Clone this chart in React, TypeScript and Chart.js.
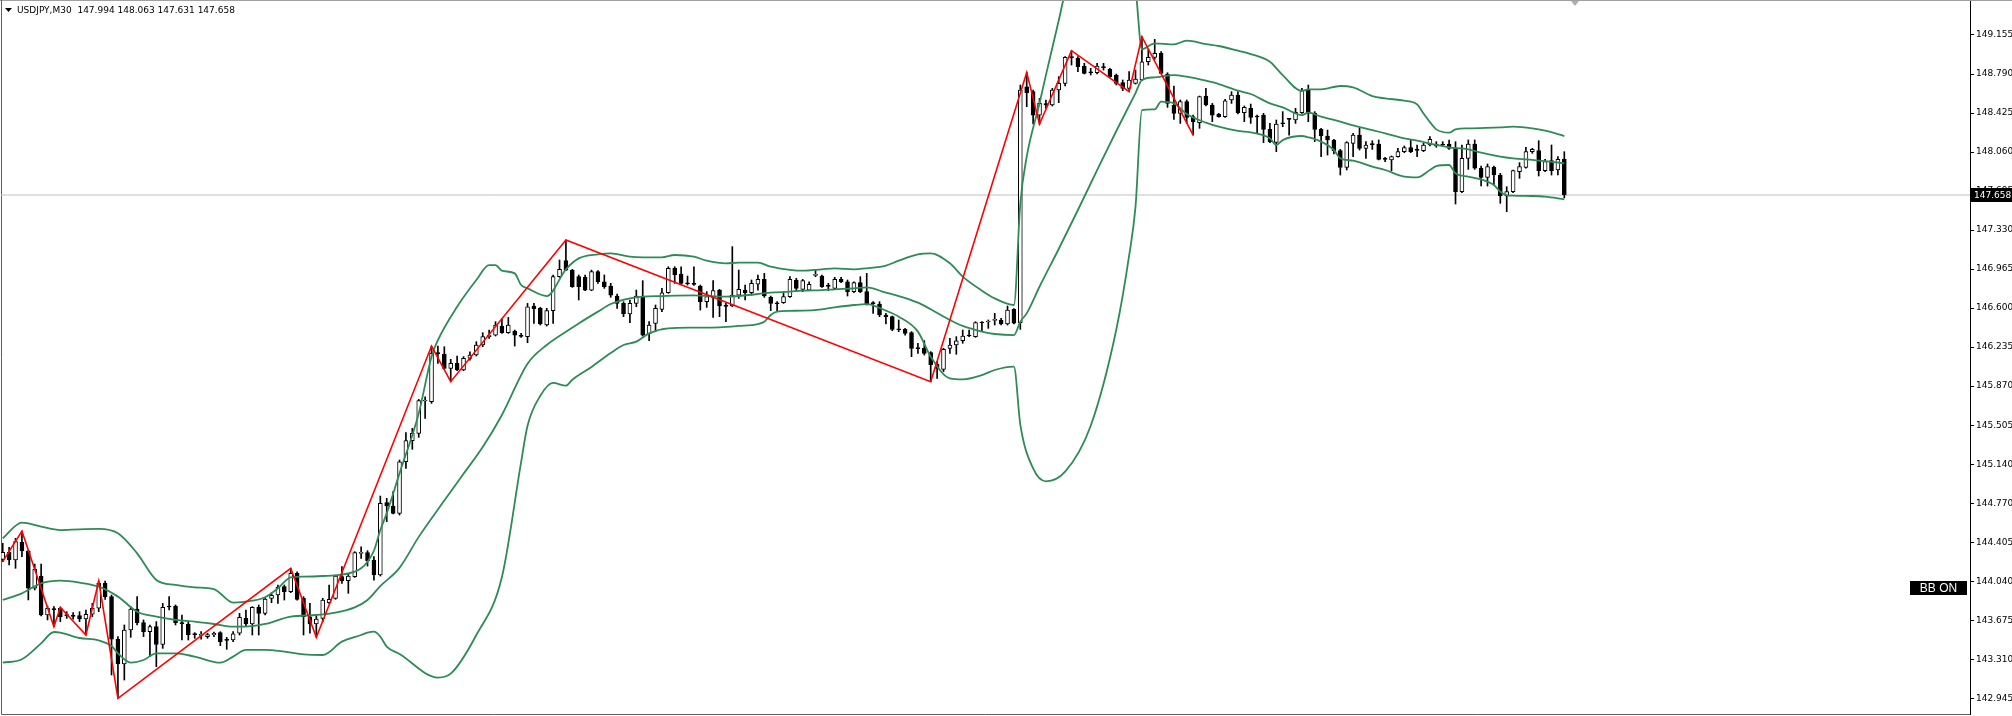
import React, { useEffect, useRef } from "react";
import { Chart, registerables } from "chart.js";
Chart.register(...registerables);

const SYMBOL = "USDJPY,M30";

const OPEN = [144.250,144.315,144.244,144.409,144.328,143.979,144.094,143.729,143.785,143.792,143.732,143.723,143.723,143.692,143.736,143.792,144.025,143.901,143.502,143.271,143.589,143.785,143.658,143.573,143.620,143.455,143.810,143.813,143.655,143.645,143.552,143.539,143.527,143.542,143.564,143.499,143.495,143.558,143.698,143.645,143.801,143.745,143.885,143.916,143.994,143.947,144.119,143.885,143.713,143.645,143.698,143.844,143.885,144.088,144.050,144.088,144.306,144.312,144.244,144.103,144.780,144.749,144.680,145.163,145.360,145.428,145.731,145.725,146.180,146.170,146.036,146.083,146.021,146.130,146.161,146.255,146.333,146.348,146.432,146.370,146.386,146.342,146.333,146.620,146.598,146.442,146.576,146.894,147.044,146.956,146.894,146.888,146.769,146.941,146.847,146.807,146.713,146.644,146.545,146.644,146.713,146.358,146.457,146.588,146.744,146.972,146.919,146.835,146.828,146.807,146.660,146.701,146.769,146.623,146.620,146.722,146.769,146.744,146.825,146.869,146.701,146.648,146.651,146.707,146.863,146.776,146.769,146.907,146.900,146.810,146.785,146.869,146.847,146.754,146.838,146.754,146.648,146.638,146.536,146.520,146.405,146.401,146.370,146.227,146.224,146.183,146.077,146.027,146.224,146.255,146.295,146.348,146.333,146.467,146.470,146.486,146.489,146.451,146.589,146.464,148.671,148.625,148.406,148.509,148.500,148.640,148.703,148.949,148.936,148.865,148.809,148.802,148.855,148.834,148.781,148.709,148.656,148.703,148.734,148.905,148.946,148.983,148.790,148.500,148.422,148.531,148.391,148.335,148.584,148.500,148.413,148.391,148.547,148.593,148.428,148.469,148.394,148.406,148.272,148.151,148.332,148.372,148.360,148.428,148.647,148.422,148.272,148.210,148.173,148.073,147.917,148.141,148.219,148.095,148.135,148.135,147.998,147.986,148.017,148.064,148.101,148.082,148.073,148.126,148.117,148.132,148.135,148.095,147.689,148.001,148.135,147.908,147.823,147.917,147.845,147.649,147.689,147.876,147.917,148.064,148.073,147.886,147.979,147.892,147.994];
const HIGH = [144.400,144.362,144.446,144.515,144.337,144.206,144.206,143.813,143.807,143.801,143.760,143.751,143.760,143.776,143.838,144.047,144.047,143.916,143.527,143.636,143.807,143.901,143.683,143.636,143.667,143.838,143.901,143.823,143.729,143.667,143.564,143.573,143.558,143.570,143.573,143.520,143.573,143.745,143.776,143.807,143.823,143.894,143.938,144.010,144.010,144.166,144.134,143.901,143.838,143.729,143.885,144.010,144.103,144.181,144.113,144.322,144.368,144.331,144.275,144.842,144.820,144.883,145.179,145.435,145.475,145.746,145.771,146.245,146.245,146.239,146.121,146.152,146.146,146.192,146.286,146.370,146.395,146.473,146.504,146.513,146.395,146.364,146.644,146.644,146.607,146.598,146.910,147.050,147.237,146.963,146.910,146.910,146.956,146.950,146.910,146.832,146.732,146.660,146.676,146.769,146.857,146.473,146.629,146.785,146.987,146.987,146.987,146.900,146.987,146.816,146.754,146.857,146.775,146.644,147.175,146.956,146.816,146.863,146.910,146.925,146.713,146.660,146.754,146.894,146.879,146.869,146.847,146.956,146.910,146.832,146.888,146.888,146.863,146.847,146.894,146.925,146.660,146.660,146.551,146.526,146.489,146.411,146.380,146.271,146.295,146.193,146.099,146.224,146.317,146.333,146.395,146.395,146.473,146.473,146.489,146.551,146.504,146.620,146.595,148.687,148.805,148.640,148.562,148.547,148.656,148.765,148.952,149.008,148.952,148.890,148.843,148.890,148.890,148.843,148.790,148.734,148.812,148.827,149.139,149.021,149.114,148.999,148.802,148.678,148.547,148.547,148.406,148.584,148.656,148.515,148.422,148.553,148.625,148.625,148.491,148.509,148.406,148.422,148.328,148.360,148.438,148.375,148.469,148.656,148.687,148.438,148.282,148.266,148.179,148.085,148.157,148.235,148.282,148.157,148.166,148.173,148.011,148.023,148.095,148.117,148.173,148.126,148.141,148.204,148.157,148.157,148.173,148.157,148.126,148.173,148.173,147.929,147.948,147.929,147.861,147.736,147.892,147.961,148.104,148.095,148.166,147.992,148.126,148.017,148.063];
const LOW = [144.228,144.197,144.166,144.275,143.870,143.963,143.720,143.683,143.620,143.667,143.698,143.689,143.667,143.542,143.714,143.760,143.876,143.168,142.950,143.121,143.520,143.636,143.527,143.340,143.246,143.417,143.776,143.636,143.495,143.495,143.511,143.502,143.511,143.527,143.442,143.408,143.480,143.542,143.626,143.542,143.542,143.729,143.844,143.838,143.869,143.938,143.869,143.542,143.558,143.520,143.667,143.838,143.876,144.025,143.932,144.081,144.259,144.187,144.056,144.094,144.602,144.674,144.664,145.101,145.279,145.391,145.569,145.709,146.083,146.027,145.912,146.015,146.015,146.114,146.152,146.239,146.317,146.339,146.364,146.364,146.245,146.326,146.276,146.457,146.442,146.432,146.457,146.888,146.950,146.794,146.676,146.763,146.763,146.832,146.785,146.701,146.598,146.520,146.464,146.613,146.339,146.295,146.379,146.567,146.738,146.832,146.816,146.816,146.813,146.582,146.607,146.514,146.520,146.473,146.613,146.691,146.676,146.722,146.769,146.701,146.576,146.567,146.644,146.701,146.763,146.754,146.763,146.894,146.794,146.763,146.776,146.838,146.713,146.745,146.745,146.629,146.551,146.520,146.451,146.389,146.380,146.348,146.146,146.177,146.161,145.912,145.943,146.006,146.177,146.168,146.271,146.333,146.327,146.380,146.411,146.442,146.442,146.442,146.451,146.401,148.484,148.322,148.322,148.469,148.491,148.522,148.678,148.874,148.812,148.790,148.781,148.790,148.827,148.759,148.687,148.634,148.625,148.696,148.728,148.874,148.927,148.790,148.478,148.366,148.328,148.328,148.219,148.282,148.491,148.344,148.385,148.385,148.515,148.416,148.344,148.328,148.235,148.148,148.148,148.063,148.297,148.219,148.328,148.422,148.344,148.157,148.017,148.032,148.042,147.845,147.892,148.017,148.079,148.001,148.085,147.986,147.970,147.886,148.011,148.054,148.054,148.017,148.064,148.117,148.104,148.117,148.085,147.574,147.680,147.898,147.898,147.742,147.742,147.752,147.580,147.502,147.680,147.814,147.908,148.048,147.836,147.876,147.845,147.845,147.631];
const CLOSE = [144.315,144.244,144.415,144.328,143.979,144.156,143.729,143.792,143.779,143.714,143.723,143.717,143.692,143.736,143.792,144.025,143.901,143.502,143.271,143.589,143.785,143.658,143.573,143.620,143.455,143.801,143.804,143.658,143.648,143.542,143.545,143.545,143.545,143.558,143.480,143.492,143.552,143.707,143.645,143.801,143.745,143.879,143.913,143.988,143.947,144.119,143.876,143.713,143.645,143.692,143.869,143.876,144.094,144.050,144.094,144.312,144.315,144.237,144.103,144.774,144.749,144.680,145.163,145.360,145.428,145.734,145.737,146.177,146.174,146.036,146.083,146.021,146.130,146.161,146.255,146.333,146.348,146.442,146.370,146.442,146.348,146.336,146.613,146.595,146.451,146.576,146.894,146.963,146.956,146.800,146.800,146.769,146.941,146.847,146.800,146.722,146.644,146.545,146.644,146.713,146.348,146.442,146.598,146.744,146.972,146.910,146.832,146.828,146.822,146.660,146.707,146.763,146.620,146.616,146.722,146.775,146.744,146.832,146.869,146.713,146.644,146.641,146.707,146.869,146.785,146.857,146.822,146.913,146.801,146.804,146.869,146.847,146.754,146.838,146.754,146.638,146.642,146.536,146.520,146.401,146.398,146.364,146.224,146.221,146.177,146.068,146.037,146.214,146.255,146.295,146.339,146.339,146.464,146.461,146.476,146.492,146.451,146.582,146.458,148.640,148.615,148.406,148.515,148.503,148.640,148.703,148.946,148.943,148.858,148.796,148.802,148.865,148.849,148.765,148.703,148.656,148.734,148.743,148.905,148.946,148.983,148.796,148.515,148.422,148.531,148.385,148.344,148.578,148.500,148.406,148.391,148.540,148.593,148.428,148.478,148.385,148.388,148.272,148.157,148.322,148.325,148.366,148.431,148.640,148.422,148.272,148.210,148.173,148.073,147.917,148.148,148.219,148.095,148.126,148.129,147.992,147.992,148.017,148.064,148.101,148.064,148.076,148.126,148.179,148.135,148.126,148.095,147.689,148.001,148.135,147.908,147.823,147.923,147.845,147.649,147.689,147.886,147.923,148.064,148.085,147.886,147.970,147.886,147.992,147.658];

const BB_UP_BAR = [0,3,6,9,12,15,18,21,24,27,30,33,36,39,41,43,45,47,50,53,55,56,57,58,59,60,62,65,67,68,71,74,76,77,78,80,81,82,85,88,90,93,95,98,100,103,105,108,110,113,115,118,120,123,125,128,130,133,135,138,140,143,145,148,150,153,155,158,159,160,162,163,165,166,168,170,172,174,176,177,178,180,183,185,188,190,193,195,198,200,203,204,206,209,211,214,216,219,221,222,223,224,226,227,229,234,236,239,241,244];
const BB_UP = [144.446,144.593,144.556,144.524,144.531,144.534,144.493,144.306,144.057,144.010,143.988,143.972,143.845,143.863,143.895,143.979,144.082,144.088,144.094,144.107,144.135,144.166,144.228,144.330,144.524,144.680,145.054,145.615,146.146,146.301,146.613,146.863,147.003,147.003,146.950,146.925,146.816,146.785,146.713,146.963,147.065,147.103,147.112,147.081,147.075,147.075,147.097,147.081,147.044,147.019,147.025,147.025,146.987,146.958,146.950,146.963,146.972,146.963,146.972,146.997,147.044,147.103,147.112,147.019,146.894,146.763,146.691,146.629,147.580,148.017,148.516,148.780,149.290,149.550,149.850,150.030,150.120,150.080,149.850,149.590,149.021,149.077,149.067,149.102,149.070,149.052,149.008,148.977,148.905,148.780,148.631,148.647,148.647,148.678,148.665,148.584,148.562,148.541,148.506,148.420,148.340,148.272,148.241,148.272,148.282,148.291,148.297,148.282,148.260,148.210];

const BB_MID_BAR = [0,3,6,9,12,15,18,21,24,27,30,33,36,39,41,45,49,52,55,57,59,62,65,69,72,75,78,82,85,88,90,93,95,98,100,103,108,113,118,120,123,125,128,130,133,135,138,140,143,145,148,150,153,155,158,159,160,162,165,168,171,174,177,178,180,183,185,188,190,193,195,198,200,203,204,206,209,211,214,216,219,221,224,226,229,231,234,236,239,241,244];
const BB_MID = [143.870,143.932,144.025,144.050,144.032,143.994,143.901,143.760,143.714,143.683,143.667,143.645,143.620,143.626,143.645,143.714,143.729,143.751,143.801,143.870,144.000,144.170,144.460,144.800,145.050,145.300,145.600,146.080,146.255,146.379,146.457,146.567,146.638,146.691,146.707,146.713,146.719,146.707,146.732,146.744,146.754,146.763,146.769,146.776,146.785,146.794,146.744,146.713,146.651,146.589,146.489,146.433,146.380,146.358,146.348,146.473,146.551,146.800,147.153,147.518,147.890,148.257,148.612,148.734,148.759,148.780,148.765,148.727,148.696,148.634,148.603,148.515,148.478,148.406,148.428,148.391,148.344,148.310,148.266,148.235,148.188,148.166,148.126,148.104,148.085,148.054,148.017,148.001,147.986,147.976,147.955];

const BB_LOW_BAR = [0,3,6,8,9,12,15,17,18,20,22,24,27,30,34,36,38,41,44,47,50,53,56,57,58,59,60,62,68,70,74,78,81,82,84,86,88,89,92,95,97,99,101,104,108,112,115,118,119,120,121,123,125,128,130,133,135,138,140,143,145,148,150,153,155,158,159,161,163,166,170,174,176,177,178,180,181,183,185,188,190,193,195,198,199,200,203,204,206,208,209,211,214,216,219,221,223,224,226,227,229,231,233,234,235,236,239,241,244];
const BB_LOW = [143.283,143.315,143.464,143.570,143.564,143.514,143.492,143.439,143.371,143.283,143.308,143.371,143.371,143.340,143.283,143.340,143.402,143.402,143.386,143.361,143.355,143.480,143.542,143.564,143.573,143.527,143.433,143.364,143.144,143.180,143.542,144.085,145.160,145.500,145.780,145.900,145.875,145.930,146.050,146.180,146.255,146.286,146.364,146.411,146.417,146.420,146.433,146.451,146.473,146.536,146.567,146.575,146.576,146.589,146.607,146.629,146.638,146.576,146.520,146.380,146.146,145.943,145.934,145.974,146.021,146.052,145.510,145.100,144.980,145.070,145.500,146.400,147.090,147.550,148.453,148.459,148.531,148.516,148.416,148.335,148.297,148.257,148.244,148.188,148.126,148.172,148.210,148.198,148.157,148.079,148.001,147.979,147.923,147.892,147.830,147.823,147.892,147.929,147.939,147.861,147.830,147.805,147.752,147.689,147.658,147.652,147.649,147.643,147.618];

const ZZ_BAR = [0,3,8,9,13,15,18,45,49,67,70,88,145,160,162,167,176,178,186];
const ZZ_PRICE = [144.228,144.515,143.620,143.801,143.542,144.047,142.950,144.166,143.520,146.245,145.912,147.237,145.912,148.805,148.322,149.008,148.625,149.139,148.219];

const Y_TICKS = [142.945,143.310,143.675,144.040,144.405,144.770,145.140,145.505,145.870,146.235,146.600,146.965,147.330,147.695,148.060,148.425,148.790,149.155];

const Y_MIN = 142.803;
const Y_MAX = 149.473;
const X_MIN = -0.27;
const X_MAX = 307.39;

const FONT = '"DejaVu Sans", Tahoma, sans-serif';

export default function App() {
  const ref = useRef<HTMLCanvasElement>(null);
  useEffect(() => {
    document.body.style.margin = "0";
    const canvas = ref.current!;
    const n = OPEN.length;
    const last = n - 1;
    const idx = OPEN.map((_, i) => i);
    const bull = idx.map((i) => CLOSE[i] >= OPEN[i]);

    const overlay = {
      id: "overlay",
      beforeDatasetsDraw(chart: any) {
        const { ctx, chartArea } = chart;
        ctx.save();
        ctx.strokeStyle = "#a0a0a0";
        ctx.lineWidth = 1;
        ctx.beginPath();
        ctx.moveTo(0, 0.5);
        ctx.lineTo(chart.width, 0.5);
        ctx.stroke();
        ctx.strokeStyle = "#606060";
        ctx.beginPath();
        ctx.moveTo(1.5, 0);
        ctx.lineTo(1.5, chartArea.bottom + 0.5);
        ctx.lineTo(chartArea.right, chartArea.bottom + 0.5);
        ctx.stroke();
        ctx.restore();
      },
      afterDraw(chart: any) {
        const { ctx, chartArea, scales } = chart;
        ctx.save();
        // title
        ctx.fillStyle = "#000";
        ctx.beginPath();
        ctx.moveTo(5, 8);
        ctx.lineTo(12, 8);
        ctx.lineTo(8.5, 12);
        ctx.closePath();
        ctx.fill();
        ctx.font = "9px " + FONT;
        ctx.textBaseline = "middle";
        ctx.textAlign = "left";
        const title =
          SYMBOL + "  " + OPEN[last].toFixed(3) + " " + HIGH[last].toFixed(3) + " " +
          LOW[last].toFixed(3) + " " + CLOSE[last].toFixed(3);
        ctx.fillText(title, 17, 11);
        // chart shift marker
        ctx.fillStyle = "#b0b0b0";
        const sx = scales.x.getPixelForValue(X_MAX) - 395;
        ctx.beginPath();
        ctx.moveTo(sx - 4, 1);
        ctx.lineTo(sx + 4, 1);
        ctx.lineTo(sx, 6);
        ctx.closePath();
        ctx.fill();
        // price tag
        const py = Math.round(scales.y.getPixelForValue(CLOSE[last]));
        ctx.fillStyle = "#000";
        ctx.fillRect(chartArea.right + 1, py - 7, 42, 14);
        ctx.fillStyle = "#fff";
        ctx.font = "9px " + FONT;
        ctx.fillText(CLOSE[last].toFixed(3), chartArea.right + 4, py + 0.5);
        // BB ON label
        ctx.fillStyle = "#000";
        ctx.fillRect(chartArea.right - 60, 581, 57, 14);
        ctx.fillStyle = "#fff";
        ctx.font = '12px "Liberation Sans", Arial, sans-serif';
        ctx.textAlign = "center";
        ctx.fillText("BB ON", chartArea.right - 31.5, 588.5);
        ctx.restore();
      },
    };

    const GREEN = "#2e8b57";
    const lineDs = (bars: number[], vals: number[], color: string, width: number, order: number, smooth: boolean) => ({
      type: "line" as const,
      data: bars.map((b, k) => ({ x: b, y: vals[k] })),
      borderColor: color,
      borderWidth: width,
      pointRadius: 0,
      fill: false,
      order,
      cubicInterpolationMode: smooth ? ("monotone" as const) : ("default" as const),
      tension: 0,
    });

    const chart = new Chart(canvas, {
      type: "line",
      data: {
        datasets: [
          {
            type: "line",
            data: [
              { x: X_MIN, y: CLOSE[last] },
              { x: X_MAX, y: CLOSE[last] },
            ],
            borderColor: "#c0c0c0",
            borderWidth: 1,
            pointRadius: 0,
            order: 20,
          },
          {
            type: "bar",
            data: idx.map((i) => ({ x: i, y: [LOW[i], HIGH[i]] })),
            backgroundColor: "#000",
            borderWidth: 0,
            barThickness: 1,
            grouped: false,
            order: 10,
          } as any,
          {
            type: "bar",
            data: idx.map((i) => ({ x: i, y: [OPEN[i], CLOSE[i]] })),
            backgroundColor: idx.map((i) => (bull[i] ? "#fff" : "#000")),
            borderColor: "#000",
            borderWidth: 1,
            borderSkipped: false,
            barThickness: 4,
            minBarLength: 1,
            grouped: false,
            order: 9,
          } as any,
          lineDs(BB_UP_BAR, BB_UP, GREEN, 1.8, 5, true),
          lineDs(BB_MID_BAR, BB_MID, GREEN, 1.8, 5, true),
          lineDs(BB_LOW_BAR, BB_LOW, GREEN, 1.8, 5, true),
          lineDs(ZZ_BAR, ZZ_PRICE, "#ff0000", 1.6, 1, false),
        ] as any,
      },
      options: {
        responsive: false,
        animation: false,
        devicePixelRatio: 1,
        events: [],
        layout: { padding: { left: 1, top: 1, right: 0, bottom: 2 } },
        plugins: { legend: { display: false }, tooltip: { enabled: false } },
        scales: {
          x: { type: "linear", min: X_MIN, max: X_MAX, display: false, offset: false },
          y: {
            type: "linear",
            position: "right",
            min: Y_MIN,
            max: Y_MAX,
            afterBuildTicks: (s: any) => {
              s.ticks = Y_TICKS.map((v) => ({ value: v }));
            },
            afterFit: (s: any) => {
              s.width = 42;
              s.paddingTop = 0;
              s.paddingBottom = 0;
            },
            ticks: {
              font: { family: FONT, size: 9 },
              color: "#000",
              padding: 2,
              autoSkip: false,
              callback: (v: any) => Number(v).toFixed(3),
            },
            grid: { drawOnChartArea: false, tickLength: 4, color: "#000" },
            border: { display: true, color: "#000" },
          },
        },
      } as any,
      plugins: [overlay],
    });
    return () => chart.destroy();
  }, []);
  return <canvas ref={ref} width={2012} height={716} style={{ display: "block", width: 2012, height: 716 }} />;
}
